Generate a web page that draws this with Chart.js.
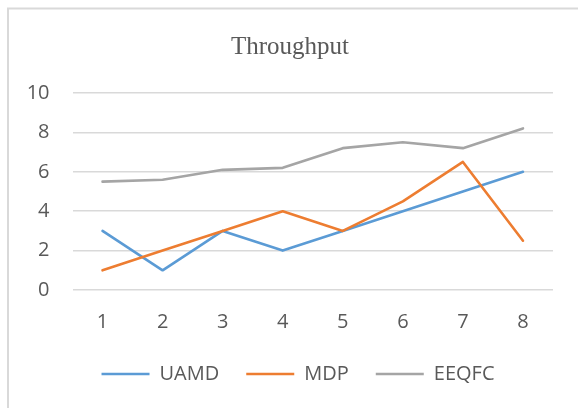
<!DOCTYPE html>
<html>
<head>
<meta charset="utf-8">
<script src="https://cdn.jsdelivr.net/npm/chart.js@4/dist/chart.umd.min.js"></script>
<style>
  html, body { margin: 0; padding: 0; background: #ffffff; }
  canvas { display: block; }
</style>
</head>
<body>
<canvas id="c" width="578" height="408"></canvas>
<script>
// ---- data ----
const categories = ["1", "2", "3", "4", "5", "6", "7", "8"];
const uamd  = [3, 1, 3, 2, 3, 4, 5, 6];
const mdp   = [1, 2, 3, 4, 3, 4.5, 6.5, 2.5];
const eeqfc = [5.5, 5.6, 6.1, 6.2, 7.2, 7.5, 7.2, 8.2];
const seriesNames = ["UAMD", "MDP", "EEQFC"];
const titleText = "Throughput";

const textColor = "#595959";
const gridColor = "#D9D9D9";

const framePlugin = {
  id: "frame",
  beforeDraw(chart) {
    const ctx = chart.ctx;
    ctx.save();
    ctx.fillStyle = "#ffffff";
    ctx.fillRect(0, 0, chart.width, chart.height);
    ctx.strokeStyle = gridColor;
    ctx.lineWidth = 2;
    ctx.beginPath();
    ctx.moveTo(8, chart.height);
    ctx.lineTo(8, 8.5);
    ctx.lineTo(chart.width, 8.5);
    ctx.stroke();
    ctx.restore();
  }
};

const legendShift = {
  id: "legendShift",
  afterLayout(chart) {
    if (chart.legend) {
      chart.legend.left += 8;
      chart.legend.right += 8;
    }
  }
};

new Chart(document.getElementById("c"), {
  type: "line",
  data: {
    labels: categories,
    datasets: [
      { label: seriesNames[0], data: uamd,  borderColor: "#5B9BD5", backgroundColor: "#5B9BD5", borderWidth: 2.6, order: 3 },
      { label: seriesNames[1], data: mdp,   borderColor: "#ED7D31", backgroundColor: "#ED7D31", borderWidth: 2.6, order: 2 },
      { label: seriesNames[2], data: eeqfc, borderColor: "#A5A5A5", backgroundColor: "#A5A5A5", borderWidth: 2.6, order: 1 }
    ]
  },
  options: {
    responsive: false,
    animation: false,
    devicePixelRatio: 1,
    elements: {
      line: { tension: 0, borderCapStyle: "round", borderJoinStyle: "round", fill: false },
      point: { radius: 0, hoverRadius: 0 }
    },
    layout: { padding: { left: 27, right: 25, top: 0, bottom: 14 } },
    plugins: {
      tooltip: { enabled: false },
      title: {
        display: true,
        text: titleText,
        color: textColor,
        font: { family: "'Liberation Serif', 'Times New Roman', serif", size: 25, weight: "normal", lineHeight: 1.2 },
        padding: { top: 32, bottom: 31 }
      },
      legend: {
        position: "bottom",
        reverse: true,
        labels: {
          usePointStyle: true,
          pointStyle: "line",
          pointStyleWidth: 48,
          padding: 27,
          color: textColor,
          font: { family: "'Open Sans', sans-serif", size: 20 },
          generateLabels(chart) {
            const items = Chart.defaults.plugins.legend.labels.generateLabels(chart);
            items.forEach(it => { it.lineWidth = 2.6; it.lineCap = "butt"; });
            return items;
          }
        }
      }
    },
    scales: {
      x: {
        type: "category",
        offset: true,
        grid: { display: false, drawTicks: false },
        border: { display: false },
        ticks: { color: textColor, padding: 20, maxRotation: 0, font: { family: "'Open Sans', sans-serif", size: 20 } },
        afterFit(scale) { scale.height = 47; }
      },
      y: {
        min: 0,
        max: 10,
        ticks: { stepSize: 2, color: textColor, padding: 23, font: { family: "'Open Sans', sans-serif", size: 20 } },
        grid: { color: gridColor, lineWidth: 1.5, drawTicks: false },
        border: { display: false },
        afterFit(scale) { scale.width = 45.5; }
      }
    }
  },
  plugins: [framePlugin, legendShift]
});
</script>
</body>
</html>
